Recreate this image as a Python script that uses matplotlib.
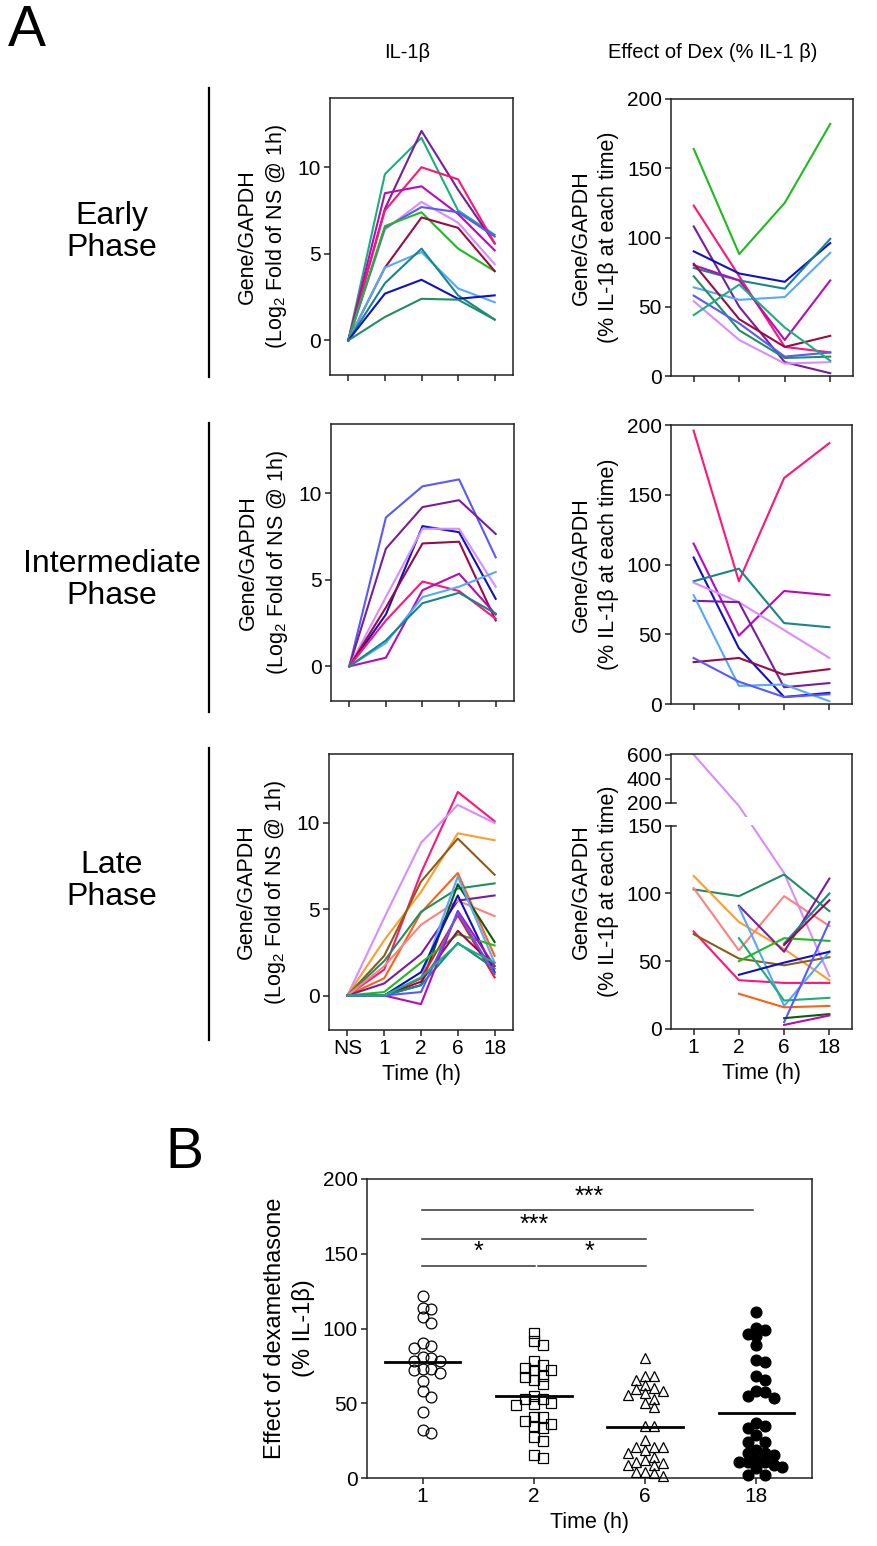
import numpy as np
import matplotlib
matplotlib.use('Agg')
import matplotlib.pyplot as plt
from matplotlib.lines import Line2D

plt.rcParams['font.family'] = ['Liberation Sans', 'DejaVu Sans']
plt.rcParams['mathtext.fontset'] = 'custom'
plt.rcParams['mathtext.rm'] = 'Liberation Sans'
plt.rcParams['mathtext.it'] = 'Liberation Sans'

# ---------------- data ----------------
il1b_times = ['NS', '1', '2', '6', '18']
dex_times = ['1', '2', '6', '18']
nan = np.nan

early_il1b_colors = ['mint', 'purple', 'pink', 'magenta', 'lilac', 'blue',
                     'green', 'maroon', 'sky', 'teal', 'navy', 'sea']
early_il1b = [
    [0, 9.6, 11.7, 7.5, 6.1],
    [0, 7.6, 12.1, 8.7, 5.6],
    [0, 7.5, 10.0, 9.3, 5.6],
    [0, 8.5, 8.9, 7.3, 5.2],
    [0, 6.4, 8.0, 6.8, 4.4],
    [0, 6.5, 7.7, 7.4, 6.0],
    [0, 6.6, 7.4, 5.3, 4.0],
    [0, 4.2, 7.1, 6.5, 4.0],
    [0, 4.2, 5.1, 3.0, 2.2],
    [0, 3.3, 5.3, 2.6, 1.2],
    [0, 2.7, 3.5, 2.4, 2.6],
    [0, 1.35, 2.4, 2.35, 1.2],
]

early_dex_colors = ['green', 'pink', 'purple', 'navy', 'teal', 'sky',
                    'magenta', 'maroon', 'sea', 'blue', 'lilac', 'mint']
early_dex = [
    [164, 88, 125, 182],
    [123, 72, 21, 17],
    [108, 50, 10, 2],
    [90, 74, 68, 96],
    [78, 69, 63, 99],
    [64, 55, 57, 89],
    [80, 69, 26, 69],
    [81, 41, 21, 29],
    [72, 33, 13, 14],
    [58, 38, 14, 17],
    [54, 26, 9, 10],
    [44, 66, 35, 11],
]

inter_il1b_colors = ['blue', 'purple', 'navy', 'lilac', 'maroon', 'pink',
                     'magenta', 'sky', 'teal']
inter_il1b = [
    [0, 8.6, 10.4, 10.8, 6.3],
    [0, 6.8, 9.2, 9.6, 7.65],
    [0, 3.0, 8.1, 7.75, 3.9],
    [0, 4.0, 7.95, 7.95, 4.6],
    [0, 3.4, 7.1, 7.2, 2.65],
    [0, 2.65, 4.9, 4.35, 2.75],
    [0, 0.5, 4.4, 5.35, 3.0],
    [0, 1.35, 4.0, 4.6, 5.45],
    [0, 1.5, 3.65, 4.25, 3.05],
]

inter_dex_colors = ['pink', 'magenta', 'navy', 'teal', 'lilac', 'purple',
                    'sky', 'maroon', 'blue']
inter_dex = [
    [196, 88, 162, 187],
    [115, 49, 81, 78],
    [105, 40, 5, 8],
    [88, 97, 58, 55],
    [87, 73, 53, 33],
    [74, 73, 12, 15],
    [78, 13, 14, 2],
    [30, 33, 21, 25],
    [33, 16, 5, 7],
]

late_il1b_colors = ['pink', 'lilac', 'orange', 'brown', 'dorange', 'sea',
                    'purple', 'salmon', 'dgreen', 'sky', 'navy', 'red',
                    'green', 'maroon', 'teal', 'magenta', 'blue', 'mint']
late_il1b = [
    [0, 1.5, 7.1, 11.8, 10.1],
    [0, 4.5, 8.85, 11.05, 10.0],
    [0, 3.2, 6.0, 9.4, 9.0],
    [0, 2.3, 6.6, 9.1, 7.0],
    [0, 1.0, 4.8, 7.1, 2.3],
    [0, 2.0, 4.85, 6.2, 6.5],
    [0, 0.7, 2.4, 5.5, 5.8],
    [0, 1.7, 4.1, 5.5, 4.6],
    [0, 0, 0.6, 6.45, 3.1],
    [0, 0, 1.0, 6.9, 1.9],
    [0, 0, 1.35, 5.8, 1.35],
    [0, 0, 1.0, 4.65, 1.05],
    [0, 0.2, 1.9, 3.55, 2.9],
    [0, 0, 0.8, 3.75, 1.7],
    [0, 0, 0.6, 3.05, 1.55],
    [0, 0, -0.5, 4.9, 1.7],
    [0, 0, 0.2, 4.8, 1.25],
    [0, 0, 1.05, 3.0, 1.9],
]

late_dex_colors = ['lilac', 'sea', 'orange', 'salmon', 'pink', 'brown',
                   'purple', 'sky', 'mint', 'green', 'navy', 'dorange',
                   'teal', 'maroon', 'blue', 'dgreen', 'magenta']
late_dex = [
    [600, 193, 115, 39],
    [103, 98, 114, 87],
    [113, 79, 59, 36],
    [104, 58, 98, 76],
    [72, 36, 34, 34],
    [70, 52, 47, 53],
    [nan, 91, 57, 111],
    [nan, 90, 17, 57],
    [nan, 67, 21, 23],
    [nan, 50, 67, 65],
    [nan, 40, 49, 57],
    [nan, 26, 16, 17],
    [nan, nan, 63, 100],
    [nan, nan, 62, 95],
    [nan, nan, 5, 79],
    [nan, nan, 8, 11],
    [nan, nan, 3, 10],
]

# panel B: effect of dexamethasone at each time
b_groups = ['1', '2', '6', '18']
dex_1h = [122, 114, 113, 108, 104, 90, 88, 87, 81, 80, 78, 78, 73, 73, 72,
          70, 65, 58, 54, 44, 32, 30]
dex_2h = [97, 91.5, 89, 78, 73.6, 72.5, 75.8, 72.5, 67.6, 68.5, 65.8, 63,
          53, 55, 49.4, 50, 49, 52.8, 41, 37.8, 40.7, 36, 34.5, 33.3, 27.7,
          25, 13.2, 15.4]
dex_6h = [80, 68, 65.3, 68.5, 62.4, 58.4, 59.5, 60.2, 55.7, 56.8, 50, 47.4,
          52.8, 34.5, 34.5, 21, 21, 21, 25.5, 16.6, 18.8, 14.3, 9.8, 12, 8.7,
          11, 8.7, 4.3, 3.1, 4.3, 1.5]
dex_18h = [111, 95.3, 98.9, 100.4, 96, 88.8, 79.2, 77.6, 68, 65.8, 55, 58,
           53.5, 57.5, 35, 36.7, 33.3, 28.9, 24.4, 24.4, 16.6, 11, 12, 16.6,
           18.8, 15.4, 11, 6.5, 7.6, 8.7, 2, 2, 11]
b_comparisons = [(1, 4, '***'), (1, 3, '***'), (1, 2, '*'), (2, 3, '*')]
b_comp_levels = [179, 160, 142, 142]

# ---------------- styling ----------------
colors = dict(pink='#ff1478', purple='#7a1c9c', magenta='#b80ab8',
              lilac='#d88cff', blue='#5858ff', navy='#1010c4', sky='#55a8ff',
              teal='#14868c', mint='#18b07c', sea='#1e8f62', green='#1cbc1c',
              maroon='#9a0a48', orange='#ff9c2e', dorange='#ff6010',
              salmon='#ff8080', brown='#8c5c18', dgreen='#0c5c0c',
              red='#ff1010')

W, H = 878, 1546
fig = plt.figure(figsize=(W / 100, H / 100), dpi=100)
spine_c = '#222222'
tick_fs = 15
lab_fs = 15.5


def px_axes(x0, y0, x1, y1):
    return fig.add_axes([x0 / W, 1 - y1 / H, (x1 - x0) / W, (y1 - y0) / H])


def style(ax):
    for s in ax.spines.values():
        s.set_linewidth(1.1)
        s.set_color(spine_c)
    ax.tick_params(direction='out', length=4.5, width=1.1, color=spine_c,
                   labelsize=tick_fs, pad=2)


def il1b_panel(ax, rows, cols, show_x):
    x = np.arange(len(il1b_times))
    for r, c in zip(rows, cols):
        ax.plot(x, r, color=colors[c], lw=1.5)
    ax.set_xlim(-0.5, 4.5)
    ax.set_ylim(-2, 14)
    ax.set_yticks([0, 5, 10])
    ax.set_xticks(x)
    style(ax)
    ax.set_ylabel('Gene/GAPDH\n(Log$_2$ Fold of NS @ 1h)', fontsize=lab_fs,
                  labelpad=6, linespacing=1.35)
    if show_x:
        ax.set_xticklabels(il1b_times)
        ax.set_xlabel('Time (h)', fontsize=lab_fs, labelpad=4)
    else:
        ax.set_xticklabels([])


def dex_panel(ax, rows, cols, show_x):
    x = np.arange(len(dex_times))
    for r, c in zip(rows, cols):
        ax.plot(x, r, color=colors[c], lw=1.5)
    ax.set_xlim(-0.5, 3.5)
    ax.set_xticks(x)
    style(ax)
    ax.set_ylabel('Gene/GAPDH\n(% IL-1β at each time)', fontsize=lab_fs,
                  labelpad=6, linespacing=1.35)
    if show_x:
        ax.set_xticklabels(dex_times)
        ax.set_xlabel('Time (h)', fontsize=lab_fs, labelpad=4)
    else:
        ax.set_xticklabels([])


# ---------------- panel A ----------------
ax = px_axes(330, 98, 513, 375)
il1b_panel(ax, early_il1b, early_il1b_colors, False)
ax = px_axes(671, 99, 853, 376)
dex_panel(ax, early_dex, early_dex_colors, False)
ax.set_ylim(0, 200)
ax.set_yticks([0, 50, 100, 150, 200])

ax = px_axes(331, 424, 514, 701)
il1b_panel(ax, inter_il1b, inter_il1b_colors, False)
ax = px_axes(671, 425, 852, 704)
dex_panel(ax, inter_dex, inter_dex_colors, False)
ax.set_ylim(0, 200)
ax.set_yticks([0, 50, 100, 150, 200])

ax = px_axes(329, 754, 513, 1030)
il1b_panel(ax, late_il1b, late_il1b_colors, True)


# broken y axis: 0-150 linear, short gap, then 200-600 compressed
def fwd(v):
    v = np.asarray(v, float)
    return np.where(v <= 150, v, np.where(v <= 200, 150 + (v - 150) * 17 / 50,
                                          167 + (v - 200) * 0.0887))


def inv(u):
    u = np.asarray(u, float)
    return np.where(u <= 150, u, np.where(u <= 167, 150 + (u - 150) * 50 / 17,
                                          200 + (u - 167) / 0.0887))


ax = px_axes(671, 754, 852, 1029)
ax.set_yscale('function', functions=(fwd, inv))
dex_panel(ax, late_dex, late_dex_colors, True)
ax.set_ylim(0, 605)
ax.set_yticks([0, 50, 100, 150, 200, 400, 600])
ax.set_yticklabels(['0', '50', '100', '150', '200', '400', '600'])
ax.minorticks_off()
ax.spines['left'].set_bounds(0, 150)
ax.axhspan(152, 168, color='white', lw=0, zorder=2.2)
yt = ax.get_yaxis_transform()
ax.plot([0, 0], [200, 605], transform=yt, color=spine_c, lw=1.1,
        clip_on=False, zorder=3)
ax.plot([0, 0.025], [150, 150], transform=yt, color=spine_c, lw=1.1,
        clip_on=False, zorder=3)
ax.plot([0, 0.025], [200, 200], transform=yt, color=spine_c, lw=1.1,
        clip_on=False, zorder=3)

# headers, row labels, separators
fig.text(8 / W, 1 - 31 / H, 'A', fontsize=41, ha='left', va='center')
fig.text(407 / W, 1 - 52 / H, 'IL-1β', fontsize=14.5, ha='center', va='center')
fig.text(713 / W, 1 - 52 / H, 'Effect of Dex (% IL-1 β)', fontsize=14.5,
         ha='center', va='center')
row_labels = ['Early\nPhase', 'Intermediate\nPhase', 'Late\nPhase']
for lab, yc, (ya, yb) in zip(row_labels, [232, 580, 881],
                             [(88, 377), (423, 712), (748, 1040)]):
    fig.text(112 / W, 1 - yc / H, lab, fontsize=23, ha='center', va='center',
             linespacing=1.05)
    fig.add_artist(Line2D([209 / W, 209 / W], [1 - ya / H, 1 - yb / H],
                          color='black', lw=1.6))

# ---------------- panel B ----------------
fig.text(165 / W, 1 - 1153 / H, 'B', fontsize=41, ha='left', va='center')
axb = px_axes(367, 1179, 812, 1478)
axb.set_xlim(0.5, 4.5)
axb.set_ylim(0, 200)
style(axb)
axb.set_xticks([1, 2, 3, 4])
axb.set_xticklabels(b_groups)
axb.set_yticks([0, 50, 100, 150, 200])
axb.set_xlabel('Time (h)', fontsize=lab_fs, labelpad=4)
axb.set_ylabel('Effect of dexamethasone\n(% IL-1β)', fontsize=17,
               labelpad=6, linespacing=1.3)


def swarm_offsets(vals, ax, dia_px=7.6, step_px=8.7):
    p0 = ax.transData.transform((0, 0))
    p1 = ax.transData.transform((1, 1))
    sx, sy = p1 - p0
    ys = np.asarray(vals, float) * sy
    placed = []
    offs = np.zeros(len(ys))
    ks = [0] + [s * k for k in range(1, 20) for s in (1, -1)]
    for i in np.argsort(-ys):
        for k in ks:
            xo = k * step_px
            if all((xo - px) ** 2 + (ys[i] - py) ** 2 >= dia_px ** 2
                   for px, py in placed):
                break
        placed.append((xo, ys[i]))
        offs[i] = xo / sx
    return offs


b_data = [dex_1h, dex_2h, dex_6h, dex_18h]
b_markers = ['o', 's', '^', 'o']
b_faces = ['none', 'none', 'none', 'black']
for i, (vals, m, fc) in enumerate(zip(b_data, b_markers, b_faces)):
    xpos = i + 1 + swarm_offsets(vals, axb)
    axb.plot(xpos, vals, ls='none', marker=m, ms=7.8 if m != 's' else 7.2,
             mfc=fc, mec='black', mew=0.9, clip_on=False, zorder=3)
    axb.plot([i + 1 - 0.34, i + 1 + 0.34], [np.mean(vals)] * 2,
             color='black', lw=2.0, zorder=4)

for (a, b, stars), lev in zip(b_comparisons, b_comp_levels):
    x0 = a - 0.01 if a == 1 else a + 0.04
    x1 = b + 0.01 if b != 4 else b - 0.03
    axb.plot([x0, x1], [lev, lev], color='#333333', lw=1.1)
    axb.text((a + b) / 2, lev + 1.0, stars, ha='center', va='bottom',
             fontsize=18)

fig.savefig('out.png', dpi=100)
